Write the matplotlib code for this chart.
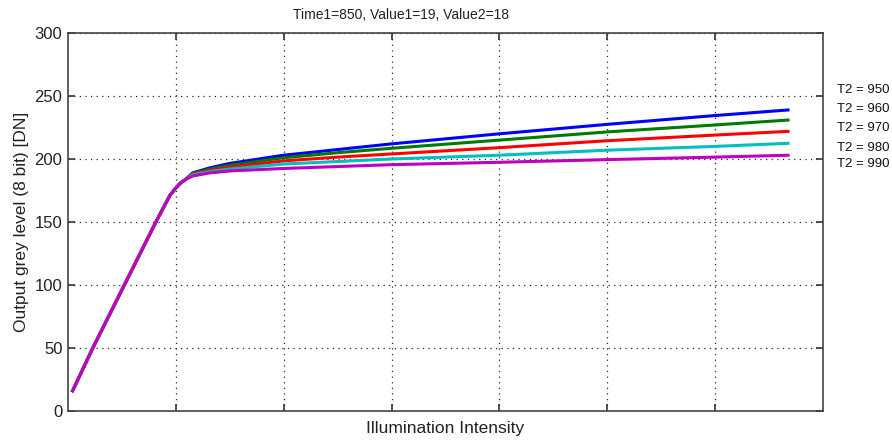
import numpy as np
import matplotlib
matplotlib.use('Agg')
import matplotlib.pyplot as plt

plt.rcParams['font.family'] = ['Liberation Sans', 'DejaVu Sans']

#%% data (x in grid units, 7 divisions, no x labels)
x = [0.037, 0.23, 0.815, 0.944, 0.99, 1.037, 1.093,
     1.157, 1.315, 1.5, 2, 2.5, 3, 4, 5, 6, 6.69]
ramp = [15, 50, 150, 171, 176, 180.5, 184]   # shared linear part + knee
y950 = ramp + [189, 193, 196.5, 203, 207.5, 212, 220, 227.5, 234.5, 239]
y960 = ramp + [188.5, 192, 195, 201, 205, 208.5, 215, 221.5, 227, 231]
y970 = ramp + [188, 191, 193.5, 198.5, 201.5, 204, 209, 214.5, 219, 222]
y980 = ramp + [187.5, 190, 192, 196, 198, 200, 203, 207, 210, 212.5]
y990 = ramp + [186.5, 189, 190.5, 192.5, 194, 195.5, 197.4, 199.5, 201.5, 203]

labels = ['T2 = 950', 'T2 = 960', 'T2 = 970', 'T2 = 980', 'T2 = 990']
colors = ['#0000ff', '#007a00', '#ff0000', '#00bfbf', '#bf00bf']
series = [y950, y960, y970, y980, y990]
label_y = [90, 109, 128, 148, 164]   # pixel rows of the right-side labels

#%% plot
fig = plt.figure(figsize=(8.92, 4.41), dpi=100)
ax = fig.add_axes([68/892, 30/441, (823-68)/892, (411-33)/441])

for ys, c in zip(series, colors):
    ax.plot(x, ys, color=c, lw=2.2, solid_capstyle='butt', solid_joinstyle='round')

ax.set_xlim(0, 7)
ax.set_ylim(0, 300)
ax.set_xticks(range(1, 7))
ax.set_xticklabels([])
ax.set_yticks(range(0, 301, 50))
ax.grid(True, color='0.15', linestyle=(0, (1, 3.5)), linewidth=0.9)
ax.tick_params(direction='in', length=5, width=1.2, top=True, right=True,
               labelsize=12, colors='#333333', labelcolor='#222222', pad=4)
for s in ax.spines.values():
    s.set_color('#444444')
    s.set_linewidth(1.2)

ax.set_ylabel('Output grey level (8 bit) [DN]', fontsize=12.5, color='#222222', labelpad=4)
ax.set_xlabel('Illumination Intensity', fontsize=12.5, color='#222222', labelpad=3)
fig.text(401/892, 1 - 15/441, 'Time1=850, Value1=19, Value2=18', ha='center', va='center',
         fontsize=10, color='#222222')

for lab, py in zip(labels, label_y):
    fig.text(837/892, 1 - py/441, lab, ha='left', va='center', fontsize=9.5, color='#111111')

fig.savefig('out.png', dpi=100)
